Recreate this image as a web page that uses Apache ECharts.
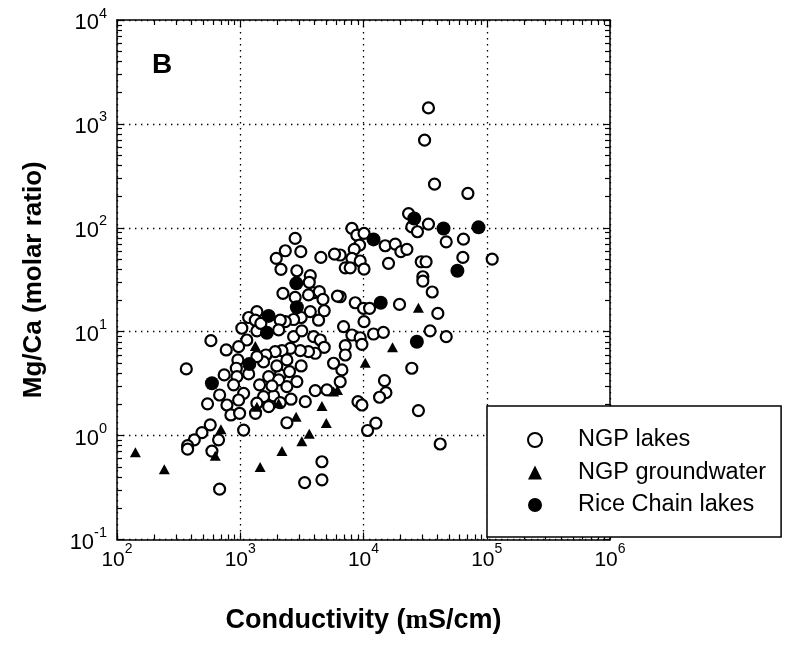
<!DOCTYPE html>
<html>
<head>
<meta charset="utf-8">
<script src="https://cdn.jsdelivr.net/npm/echarts@6/dist/echarts.min.js"></script>
<style>
  html, body { margin: 0; padding: 0; background: #fff; }
  #chart { width: 793px; height: 645px; }
</style>
</head>
<body>
<div id="chart"></div>
<script>
// [conductivity, Mg/Ca molar ratio]
const ngpLakes = [
  [33650,1425],[31300,697],[37700,263],[70300,214],[23200,137],[24650,102],[27400,91.6],[33650,108.6],
  [46900,73.3],[64700,77.8],[64000,51.9],[110700,50],[29400,47.1],[32200,47.1],[30300,33.8],[30300,30.7],
  [36100,24.1],[40100,15.0],[19600,18.3],[34700,10.2],[46900,8.95],
  [8050,98.6],[8830,85.1],[10100,88.4],[9290,68.2],[8410,62.0],[8050,50.8],[9400,47.9],[7110,41.2],
  [7800,41.2],[10100,40.1],[15000,67.2],[18100,69.7],[20100,58.9],[22500,62.0],[15960,45.5],[6470,54.7],
  [6470,21.7],[8570,19.0],[10000,16.8],[11200,16.8],[10100,12.5],[6890,11.2],[8050,9.29],[9400,8.75],
  [9710,7.56],[12060,9.5],[14500,9.86],[7110,7.33],[7110,5.97],
  [6680,4.29],[6470,3.3],[24650,4.45],[14800,3.38],[15200,2.59],[13500,2.34],[9020,2.12],[9710,1.97],
  [27900,1.74],[12600,1.32],[10790,1.12],[41900,0.83],
  [2790,79.1],[2320,60.1],[3100,58.9],[1960,50.8],[2140,39.8],[4510,51.9],[5820,55.8],[2880,38.6],
  [3700,34.6],[3630,29.9],[3940,23.7],[4380,24.3],[4690,20.5],[3580,22.6],[2220,23.4],[2790,21.4],
  [6150,22.0],[3700,15.6],[4800,15.9],[4320,12.9],[3120,13.7],[2710,13.1],[2320,12.5],[2110,12.9],
  [1365,15.6],[1170,13.7],[1325,12.9],[1030,10.8],[1365,10.2],[2050,10.4],[2710,8.96],[3160,10.2],
  [3940,8.96],[4460,8.32],[4800,7.08],[4060,6.20],[3580,6.43],[3070,6.58],[2550,6.92],[2180,6.58],
  [1920,6.43],[1615,5.97],[1545,5.12],[1365,5.75],[1130,8.32],[970,7.18],[770,6.67],[578,8.20],
  [365,4.38],[5720,4.97],[4060,2.71],[5050,2.75],[957,5.35],[929,4.45],[1170,3.92],[741,3.84],
  [940,3.70],[883,3.08],[1435,3.08],[1700,3.70],[2110,3.84],[2050,3.44],[2510,4.13],[2880,3.31],
  [2390,2.96],[1865,2.41],[1545,2.37],[1365,2.05],[1065,2.55],[970,2.20],[780,1.97],[840,1.58],
  [988,1.64],[1330,1.64],[1700,1.90],[2110,2.08],[2580,2.24],[3370,2.12],[680,2.46],[543,2.02],
  [571,1.27],[489,1.07],[424,0.91],[374,0.80],[374,0.74],[667,0.91],[589,0.71],[1065,1.13],
  [680,0.305],[2390,1.33],[4600,0.56],[4600,0.375],[3330,0.353],
  [1810,3.01],[3120,4.68],[1980,4.68],[2390,5.35],[1470,12.0]
];
const ngpGroundwater = [
  [141,0.69],[242,0.475],[627,0.64],[697,1.15],[1450,0.50],[2180,0.71],[3160,0.88],[3630,1.04],
  [2840,1.52],[4600,1.93],[4990,1.32],[5720,2.65],[6150,2.75],[1325,7.28],[2050,2.05],[1365,1.90],
  [27900,17.0],[17200,7.08],[10330,5.03]
];
const riceChainLakes = [
  [589,3.19],[1185,4.89],[1645,9.77],[1700,14.2],[2880,17.2],[2850,29.2],[12060,77.3],[13800,19.0],
  [27100,8.0],[25800,123],[44600,98.6],[57800,38.6],[85700,101]
];
const seriesNames = ['NGP lakes', 'NGP groundwater', 'Rice Chain lakes'];
// decade exponents of the tick labels
const xDecades = [2, 3, 4, 5, 6];
const yDecades = [-1, 0, 1, 2, 3, 4];

const FONT = '"Liberation Sans", Arial, Helvetica, sans-serif';

function majors(decades) { return decades.map(d => Math.pow(10, d)); }
function minors(decades) {
  const out = [];
  for (let i = 0; i < decades.length - 1; i++) {
    const b = Math.pow(10, decades[i]);
    for (let k = 2; k <= 9; k++) out.push(k * b);
  }
  return out;
}
function powLabel(v) {
  const e = Math.round(Math.log10(v));
  return '{b|10}{s|' + e + '}';
}

const LINE = { show: true, lineStyle: { color: '#000', width: 1.5 } };

function axisSet(decades, sides, labelCfg, nameCfg) {
  const lo = Math.pow(10, decades[0]);
  const hi = Math.pow(10, decades[decades.length - 1]);
  const list = [];
  sides.forEach((side, i) => {
    const main = i === 0;
    // decade ticks (+ labels and grid on the main side)
    list.push(Object.assign({
      type: 'log', logBase: 10, min: lo, max: hi, position: side,
      axisLine: LINE,
      axisTick: { show: true, inside: true, length: 7, customValues: majors(decades),
                  lineStyle: { color: '#000', width: 1.2 } },
      axisLabel: main ? labelCfg : { show: false },
      splitLine: main ? { show: true, lineStyle: { color: '#000', width: 1.3, type: [1.4, 4.6] } } : { show: false },
      minorTick: { show: false }
    }, main ? nameCfg : {}));
    // 2..9 sub-ticks
    list.push({
      type: 'log', logBase: 10, min: lo, max: hi, position: side,
      axisLine: { show: false },
      axisTick: { show: true, inside: true, length: 5, customValues: minors(decades),
                  lineStyle: { color: '#000', width: 1.2 } },
      axisLabel: { show: false },
      splitLine: { show: false }
    });
  });
  return list;
}

const xLabel = {
  show: true, margin: 3, customValues: majors(xDecades),
  formatter: powLabel,
  rich: {
    b: { fontFamily: FONT, fontSize: 21, color: '#000', lineHeight: 28, verticalAlign: 'bottom' },
    s: { fontFamily: FONT, fontSize: 14, color: '#000', lineHeight: 20, verticalAlign: 'top' }
  }
};
const yLabel = {
  show: true, margin: 10, customValues: majors(yDecades),
  formatter: powLabel,
  rich: {
    b: { fontFamily: FONT, fontSize: 22, color: '#000', lineHeight: 28, verticalAlign: 'bottom' },
    s: { fontFamily: FONT, fontSize: 14.5, color: '#000', lineHeight: 20, verticalAlign: 'top' }
  }
};

const xName = {
  name: 'Conductivity ({m|m}S/cm)', nameLocation: 'middle', nameGap: 68,
  nameTextStyle: {
    fontFamily: FONT, fontSize: 27, fontWeight: 'bold', color: '#000',
    rich: { m: { fontFamily: '"Liberation Serif", "DejaVu Serif", serif', fontSize: 27, fontWeight: 'bold', color: '#000' } }
  }
};
const yName = {
  name: 'Mg/Ca (molar ratio)', nameLocation: 'middle', nameGap: 70,
  nameTextStyle: { fontFamily: FONT, fontSize: 26, fontWeight: 'bold', color: '#000' }
};

const chart = echarts.init(document.getElementById('chart'), null, { renderer: 'canvas' });

chart.setOption({
  animation: false,
  backgroundColor: '#fff',
  grid: { left: 117, top: 20, width: 493, height: 519.5, containLabel: false },
  xAxis: axisSet(xDecades, ['bottom', 'top'], xLabel, xName),
  yAxis: axisSet(yDecades, ['left', 'right'], yLabel, yName),
  legend: {
    left: 487, top: 406, orient: 'vertical',
    padding: [22, 15, 20, 40],
    itemWidth: 14, itemHeight: 14, itemGap: 8.5,
    backgroundColor: '#fff', borderColor: '#000', borderWidth: 1.5, borderRadius: 0,
    textStyle: { fontFamily: FONT, fontSize: 23.5, color: '#000', lineHeight: 24, padding: [0, 0, 0, 31] },
    data: seriesNames
  },
  graphic: [
    { type: 'text', left: 152, top: 51, z: 10,
      style: { text: 'B', fill: '#000', font: 'bold 28px ' + FONT } }
  ],
  series: [
    { name: seriesNames[0], type: 'scatter', data: ngpLakes, symbol: 'circle', symbolSize: 11,
      itemStyle: { color: '#fff', borderColor: '#000', borderWidth: 2.2, opacity: 1 } },
    { name: seriesNames[1], type: 'scatter', data: ngpGroundwater, symbol: 'triangle', symbolSize: [11, 10],
      itemStyle: { color: '#000', opacity: 1 } },
    { name: seriesNames[2], type: 'scatter', data: riceChainLakes, symbol: 'circle', symbolSize: 14,
      itemStyle: { color: '#000', opacity: 1 } }
  ]
});
</script>
</body>
</html>
